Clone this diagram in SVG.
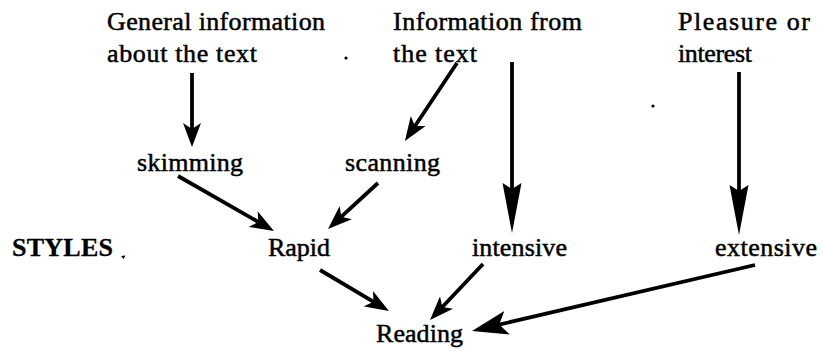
<svg xmlns="http://www.w3.org/2000/svg" width="823" height="351" viewBox="0 0 823 351">
<style>
text{font-family:"Liberation Serif","Times New Roman",serif;font-size:26px;fill:#000;stroke:#000;stroke-width:0.5}
.b{font-weight:bold;stroke-width:0.3}
.c{fill:none;stroke:#000;stroke-width:3.8;stroke-linecap:butt}
.v{marker-end:url(#dart)}
.n{marker-end:url(#head)}
.g{marker-end:url(#big)}
</style>
<defs>
<marker id="head" viewBox="-14 -9 24 18" refX="0" refY="0" markerWidth="24" markerHeight="18" markerUnits="userSpaceOnUse" orient="auto">
<path d="M10,0 L-14,-9 L-8,0 L-14,9 Z" fill="#000"/>
</marker>
<marker id="dart" viewBox="-40 -10 50 20" refX="0" refY="0" markerWidth="50" markerHeight="20" markerUnits="userSpaceOnUse" orient="auto">
<path d="M10,0 L-40,-9.5 L-34,0 L-40,9.5 Z" fill="#000"/>
</marker>
<marker id="big" viewBox="-26 -12 36 24" refX="0" refY="0" markerWidth="36" markerHeight="24" markerUnits="userSpaceOnUse" orient="auto">
<path d="M10,0 L-26,-12 L-18,0 L-26,12 Z" fill="#000"/>
</marker>
</defs>
<rect width="823" height="351" fill="#fff"/>
<g id="connectors">
<path class="c n" d="M192,73 L192,137"/>
<path class="c n" d="M457,63 L410.5,132.7"/>
<path class="c v" d="M512,62 L512,223"/>
<path class="c v" d="M739,72 L739,225"/>
<path class="c n" d="M178,176 L265.3,226"/>
<path class="c n" d="M378,183 L335.4,222.2"/>
<path class="c n" d="M320,270 L380.4,305.9"/>
<path class="c n" d="M483,264 L436.9,312.7"/>
<path class="c g" d="M755,265 L481.7,328.7"/>
</g>
<g id="general"><text x="107" y="30" textLength="218">General information</text><text x="107" y="62" textLength="150">about the text</text></g>
<g id="info"><text x="393" y="30" textLength="189">Information from</text><text x="393" y="62" textLength="84">the text</text></g>
<g id="pleasure"><text x="678" y="30" textLength="132">Pleasure or</text><text x="678" y="62" textLength="74">interest</text></g>
<g id="skimming"><text x="137" y="171" textLength="106">skimming</text></g>
<g id="scanning"><text x="345" y="171" textLength="95">scanning</text></g>
<g id="styles"><text class="b" x="12" y="256" textLength="101">STYLES</text></g>
<g id="rapid"><text x="268" y="256" textLength="62">Rapid</text></g>
<g id="intensive"><text x="472" y="256" textLength="95">intensive</text></g>
<g id="extensive"><text x="715" y="256" textLength="102">extensive</text></g>
<g id="reading"><text x="376" y="342" textLength="87">Reading</text></g>
<g id="specks" fill="#000">
<circle cx="346" cy="58" r="1.6"/>
<circle cx="653" cy="106" r="1.6"/>
<path d="M121,256 L123.5,259 L125.5,255.5 Z"/>
</g>
</svg>
